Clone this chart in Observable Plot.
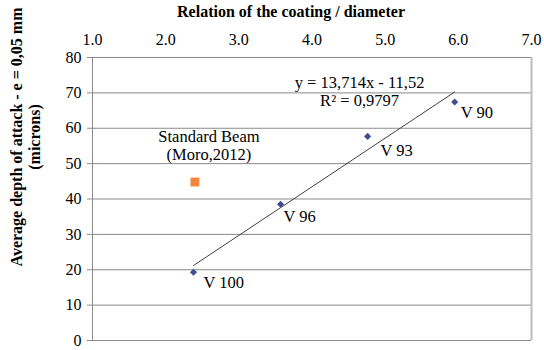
<!DOCTYPE html>
<html>
<head>
<meta charset="utf-8">
<script src="https://cdn.jsdelivr.net/npm/d3@7"></script>
<script src="https://cdn.jsdelivr.net/npm/@observablehq/plot@0.6"></script>
<style>
  body { margin: 0; background: #fff; }
</style>
</head>
<body>
<div id="chart"></div>
<script>
const names = ["V 100", "V 96", "V 93", "V 90"];
const ratio = [2.38, 3.57, 4.76, 5.95];
const depth = [19.3, 38.5, 57.7, 67.4];

const refNames = ["Standard Beam\n(Moro,2012)"];
const refRatio = [2.40];
const refDepth = [44.8];

const xTicks = [1, 2, 3, 4, 5, 6, 7];
const yTicks = [0, 10, 20, 30, 40, 50, 60, 70, 80];

const xTitle = "Relation of the coating / diameter";
const yTitle = "Average depth of attack - e = 0,05 mm\n(microns)";
const equation = "y = 13,714x - 11,52\nR² = 0,9797";

const pts = names.map((n, i) => ({name: n, x: ratio[i], y: depth[i]}));
const refs = refNames.map((n, i) => ({name: n, x: refRatio[i], y: refDepth[i]}));
const eqPos = [{x: 4.65, y: 70.5, t: equation}];

// label offsets (layout only)
const labelOffsets = [[10, 10], [3, 12], [13, 14], [6, 11]];

const chart = Plot.plot({
  width: 544,
  height: 350,
  marginLeft: 92,
  marginRight: 13,
  marginTop: 57,
  marginBottom: 10,
  style: {fontFamily: "'Liberation Serif', 'Times New Roman', serif", fontSize: "16px", color: "#000", background: "#fff"},
  x: {domain: [1, 7]},
  y: {domain: [0, 80]},
  marks: [
    Plot.gridY(yTicks, {stroke: "#8a8a8a", strokeOpacity: 1}),
    Plot.ruleX([1], {stroke: "#8a8a8a"}),
    Plot.ruleX([7], {stroke: "#bdbdbd", strokeWidth: 2}),
    Plot.axisX(xTicks, {anchor: "top", tickFormat: d3.format(".1f"), tickSize: 0, tickPadding: 13, label: null, fontSize: 16}),
    Plot.axisY(yTicks, {anchor: "left", tickSize: 5, tickPadding: 6, label: null, stroke: "#8a8a8a", fontSize: 16}),
    Plot.text([xTitle], {frameAnchor: "top", lineAnchor: "middle", dy: -46, dx: -21, fontWeight: "bold", fontSize: 16}),
    Plot.text([yTitle], {frameAnchor: "left", textAnchor: "middle", lineAnchor: "middle", rotate: -90, dx: -67, dy: -62, fontWeight: "bold", fontSize: 16, lineHeight: 1.08}),
    Plot.linearRegressionY(pts, {x: "x", y: "y", ci: 0, stroke: "#404040", strokeWidth: 1}),
    Plot.dot(pts, {x: "x", y: "y", symbol: "diamond2", r: 3.2, fill: "#3f4d8e"}),
    Plot.dot(refs, {x: "x", y: "y", symbol: "square", r: 5, fill: "#f4873f"}),
    ...pts.map((p, i) => Plot.text([p], {x: "x", y: "y", text: "name", textAnchor: "start", dx: labelOffsets[i][0], dy: labelOffsets[i][1], fontSize: 16.5})),
    Plot.text(refs, {x: "x", y: "y", text: "name", dx: 14, dy: -37, fontSize: 16.5, lineHeight: 1.1}),
    Plot.text(eqPos, {x: "x", y: "y", text: "t", fontSize: 16.5, lineHeight: 1.1})
  ]
});
document.getElementById("chart").appendChild(chart);
</script>
</body>
</html>
